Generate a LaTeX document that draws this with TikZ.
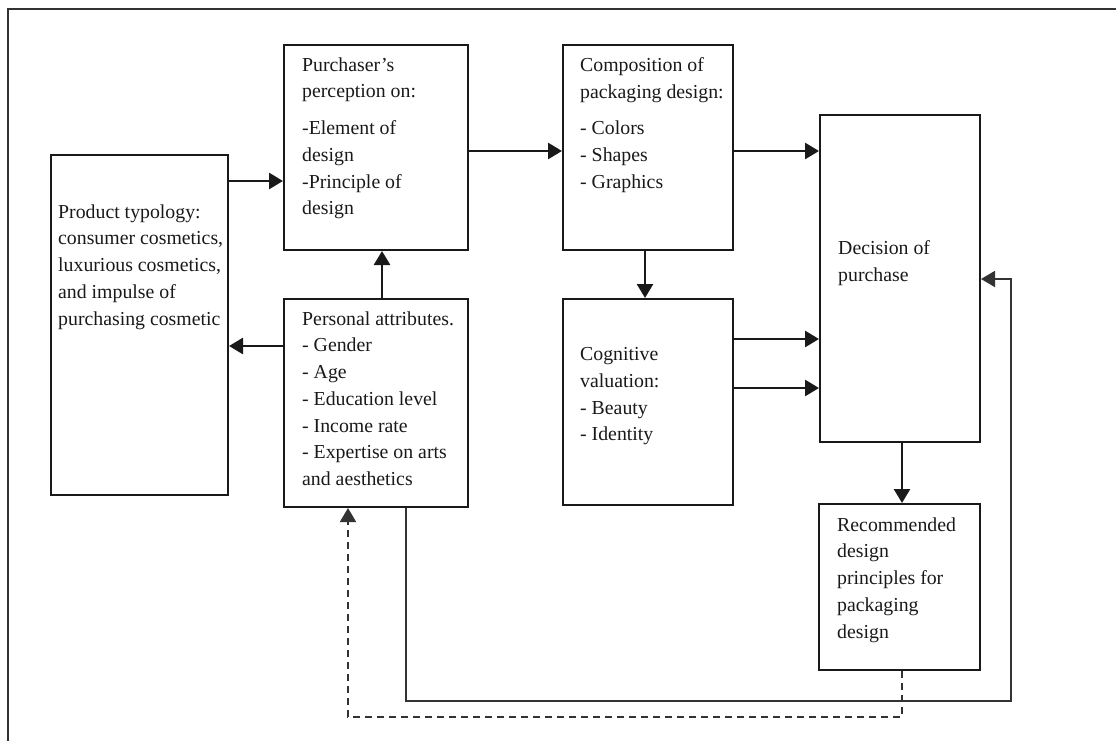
\documentclass[tikz,border=0pt]{standalone}
\usepackage{fontspec}
\setmainfont{Liberation Serif}
\usetikzlibrary{arrows.meta}
\begin{document}
\begin{tikzpicture}[x=1pt,y=-1pt,
  box/.style={draw=black!90, line width=2pt, inner sep=0pt, anchor=north west},
  txt/.style={anchor=north west, inner sep=0pt, align=left, text=black!90,
    font=\fontsize{19.8}{26.7}\selectfont, execute at begin node=\strut},
  arr/.style={line width=2.6pt, draw=black!90, -{Triangle[length=14pt,width=16pt]}},
  fb/.style={line width=1.8pt, draw=black!80, -{Triangle[length=14pt,width=16pt]}},
  fbd/.style={fb, dash pattern=on 7pt off 5pt},
  frame/.style={line width=1.8pt, draw=black!80}]
\useasboundingbox (0,0) rectangle (1116,741);
\draw[frame] (8,741) -- (8,9) -- (1116,9);

% boxes
\node[box, minimum width=177pt, minimum height=340pt] (prod)  at (50,154) {};
\node[box, minimum width=184pt, minimum height=205pt] (purch) at (283,44) {};
\node[box, minimum width=184pt, minimum height=208pt] (pers)  at (283,298) {};
\node[box, minimum width=170pt, minimum height=205pt] (comp)  at (562,44) {};
\node[box, minimum width=170pt, minimum height=206pt] (cog)   at (562,298) {};
\node[box, minimum width=160pt, minimum height=327pt] (dec)   at (819,114) {};
\node[box, minimum width=161pt, minimum height=166pt] (rec)   at (818,503) {};

% texts
\node[txt] (prodT) at (58,204.3) {Product typology:\\consumer cosmetics,\\luxurious cosmetics,\\and impulse of\\purchasing cosmetic};
\node[txt] (purchT) at (302,57.3) {Purchaser’s\\perception on:\\[10pt]-Element of\\design\\-Principle of\\design};
\node[txt] (persT) at (302,311.3) {Personal attributes.\\- Gender\\- Age\\- Education level\\- Income rate\\- Expertise on arts\\and aesthetics};
\node[txt] (compT) at (580,57.3) {Composition of\\packaging design:\\[10pt]- Colors\\- Shapes\\- Graphics};
\node[txt] (cogT) at (580,347.3) {Cognitive\\valuation:\\- Beauty\\- Identity};
\node[txt] (decT) at (838,240.3) {Decision of\\purchase};
\node[txt] (recT) at (837,517.3) {Recommended\\design\\principles for\\packaging\\design};

% connectors
\draw[arr] (prod.east |- 0,181) -- (purch.west |- 0,181);
\draw[arr] (pers.west |- 0,346) -- (prod.east |- 0,346);
\draw[arr] (pers.north -| 382,0) -- (purch.south -| 382,0);
\draw[arr] (purch.east |- 0,151) -- (comp.west |- 0,151);
\draw[arr] (comp.east |- 0,151) -- (dec.west |- 0,151);
\draw[arr] (comp.south -| 645,0) -- (cog.north -| 645,0);
\draw[arr] (cog.east |- 0,339) -- (dec.west |- 0,339);
\draw[arr] (cog.east |- 0,388) -- (dec.west |- 0,388);
\draw[arr] (dec.south -| 902,0) -- (rec.north -| 902,0);
\coordinate (loopR) at (1011,701);
\draw[fb] (pers.south -| 406,0) |- (loopR) |- (dec.east |- 0,279);
\coordinate (dashL) at (348,717);
\draw[fbd] (rec.south -| 902,0) |- (dashL) -- (pers.south -| 348,0);
\end{tikzpicture}
\end{document}
